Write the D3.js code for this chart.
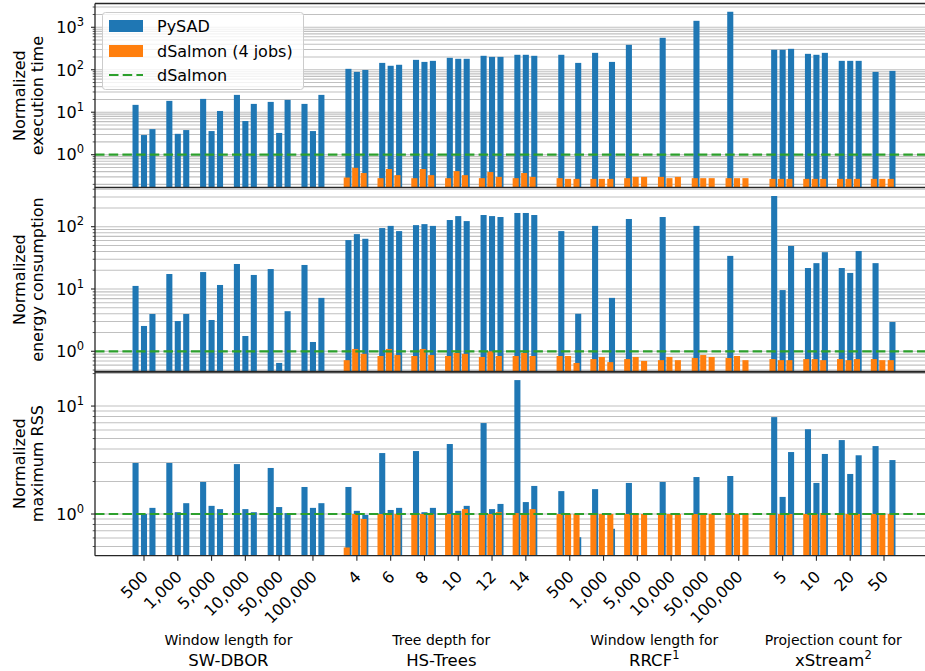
<!DOCTYPE html>
<html>
<head>
<meta charset="utf-8">
<script src="https://cdn.jsdelivr.net/npm/d3@7"></script>
<style>
body { margin: 0; background: #fff; }
text { font-family: "DejaVu Sans", sans-serif; fill: #000; }
</style>
</head>
<body>
<div id="chart"></div>
<script>
////////////////////////////////////////////////////////////
//////////////////////// Data //////////////////////////////
////////////////////////////////////////////////////////////
var groupNames = ["SW-DBOR", "HS-Trees", "RRCF", "xStream"];
var groupSup = ["", "", "1", "2"];
var groupCaptions = ["Window length for", "Tree depth for", "Window length for", "Projection count for"];
var tickLabels = [
	["500", "1,000", "5,000", "10,000", "50,000", "100,000"],
	["4", "6", "8", "10", "12", "14"],
	["500", "1,000", "5,000", "10,000", "50,000", "100,000"],
	["5", "10", "20", "50"]
];
var metricLabels = [
	["Normalized", "execution time"],
	["Normalized", "energy consumption"],
	["Normalized", "maximum RSS"]
];
var seriesNames = ["PySAD", "dSalmon (4 jobs)", "dSalmon"];

// three bars (datasets) per parameter value, null = no result
var pysadTime = [
	[14.9, 2.9, 4.0], [18.5, 3.1, 3.8], [20.6, 3.6, 10.7], [25.6, 6.2, 15.7], [17.5, 3.25, 19.5], [15.7, 3.6, 25.6],
	[105, 89, 99], [145, 124, 131], [171, 153, 162], [191, 181, 181], [213, 201, 201], [225, 225, 213],
	[225, null, 145], [250, null, 153], [386, null, null], [565, null, null], [1420, null, null], [2320, null, null],
	[295, 295, 311], [237, 225, 250], [162, 162, 162], [89, null, 94]
];
var dsalmonTime = [
	null, null, null, null, null, null,
	[0.29, 0.49, 0.37], [0.28, 0.46, 0.33], [0.28, 0.46, 0.33], [0.28, 0.41, 0.33], [0.28, 0.39, 0.30], [0.28, 0.37, 0.30],
	[0.28, 0.27, 0.27], [0.27, 0.27, 0.27], [0.28, 0.30, 0.30], [0.30, 0.28, 0.30], [0.28, 0.28, 0.28], [0.28, 0.28, 0.28],
	[0.27, 0.27, 0.27], [0.27, 0.27, 0.27], [0.27, 0.27, 0.27], [0.27, 0.27, 0.27]
];
var pysadEnergy = [
	[11.2, 2.55, 3.97], [17.4, 3.06, 3.97], [18.7, 3.18, 11.6], [25.2, 1.76, 16.8], [20.9, 0.65, 4.4], [24.3, 1.41, 7.2],
	[61, 76, 64], [95, 103, 85], [106, 110, 103], [128, 148, 123], [154, 148, 143], [166, 166, 154],
	[85, null, 4.0], [103, null, 7.2], [133, null, null], [143, null, null], [103, null, null], [34, null, null],
	[311, 9.6, 49], [21.7, 26, 39], [21.7, 18.1, 40.7], [26, null, 2.95]
];
var dsalmonEnergy = [
	null, null, null, null, null, null,
	[0.72, 1.09, 0.91], [0.84, 1.09, 0.87], [0.84, 1.09, 0.87], [0.84, 0.94, 0.91], [0.81, 1.0, 0.84], [0.84, 0.94, 0.84],
	[0.84, 0.84, 0.65], [0.75, 0.81, 0.67], [0.75, 0.81, 0.70], [0.72, 0.81, 0.72], [0.78, 0.87, 0.81], [0.78, 0.84, 0.72],
	[0.75, 0.72, 0.72], [0.75, 0.75, 0.72], [0.75, 0.72, 0.75], [0.75, 0.72, 0.72]
];
var pysadRss = [
	[2.97, 1.0, 1.14], [2.97, 1.04, 1.26], [1.98, 1.19, 1.11], [2.90, 1.11, 1.04], [2.67, 1.16, 1.02], [1.78, 1.14, 1.26],
	[1.78, 1.07, 0.98], [3.67, 1.09, 1.14], [3.83, 1.04, 1.14], [4.45, 1.07, 1.19], [6.96, 1.11, 1.24], [17.4, 1.29, 1.82],
	[1.63, null, 0.61], [1.70, null, 0.73], [1.94, null, null], [1.98, null, null], [2.2, null, null], [2.25, null, null],
	[7.9, 1.44, 3.75], [6.1, 1.94, 3.6], [4.84, 2.35, 3.5], [4.26, null, 3.16]
];
var dsalmonRss = [
	null, null, null, null, null, null,
	[0.49, 1.0, 0.90], [1.0, 1.0, 1.0], [1.0, 1.0, 1.0], [1.0, 1.0, 1.11], [1.0, 1.0, 1.04], [1.02, 1.0, 1.11],
	[1, 1, 1], [1, 1, 1], [1, 1, 1], [1, 1, 1], [1, 1, 1], [1, 1, 1],
	[1, 1, 1], [1, 1, 1.02], [1, 1, 1], [1, 1, 1]
];
var yLimits = [[0.167, 3630], [0.465, 429], [0.411, 20.9]];

////////////////////////////////////////////////////////////
//////////////////////// Setup /////////////////////////////
////////////////////////////////////////////////////////////
var width = 925, height = 671;
var left = 95;
var panelTop = [3.5, 187.3, 371.5],
	panelBottom = [187.7, 372, 555.7];

var blue = "#1f77b4", orange = "#ff7f0e", green = "#2ca02c";
var barW = 0.18, offsets = [-0.25, 0, 0.25], orangeShift = -0.05;

// x position of every parameter value, with a small gap between algorithms
var pos = [];
tickLabels.forEach(function(labels, gi) {
	labels.forEach(function(l, ti) { pos.push({u: gi * 6.3 + ti, label: l, group: gi}); });
});

var x = d3.scaleLinear().domain([-1.45, 23.35]).range([left, 933]);

var svg = d3.select("#chart").append("svg")
	.attr("width", width).attr("height", height);

svg.append("defs").append("clipPath").attr("id", "clipAll")
	.append("rect").attr("x", left).attr("y", 0).attr("width", width - left).attr("height", height);

var panels = [
	{py: pysadTime, ds: dsalmonTime},
	{py: pysadEnergy, ds: dsalmonEnergy},
	{py: pysadRss, ds: dsalmonRss}
];

panels.forEach(function(p, pi) {
	var y = d3.scaleLog().domain(yLimits[pi]).range([panelBottom[pi], panelTop[pi]]);
	var g = svg.append("g").attr("clip-path", "url(#clipAll)");

	// grid: major + minor
	var ticks = y.ticks().filter(function(t) { return t >= yLimits[pi][0] && t <= yLimits[pi][1]; });
	g.selectAll(".grid").data(ticks).enter().append("line")
		.attr("x1", left).attr("x2", width)
		.attr("y1", function(d) { return y(d); }).attr("y2", function(d) { return y(d); })
		.attr("stroke", "#c0c0c0").attr("stroke-width", 1.1);

	// bars
	pos.forEach(function(d, i) {
		[0, 1, 2].forEach(function(k) {
			var v = p.py[i][k];
			if (v == null) return;
			var yt = Math.max(y(v), panelTop[pi]);
			g.append("rect")
				.attr("x", x(d.u + offsets[k] - barW / 2)).attr("width", x(barW) - x(0))
				.attr("y", yt).attr("height", panelBottom[pi] - yt)
				.attr("fill", blue);
		});
	});
	pos.forEach(function(d, i) {
		if (p.ds[i] == null) return;
		[0, 1, 2].forEach(function(k) {
			var v = p.ds[i][k];
			var yt = Math.max(y(v), panelTop[pi]);
			g.append("rect")
				.attr("x", x(d.u + offsets[k] + orangeShift - barW / 2)).attr("width", x(barW) - x(0))
				.attr("y", yt).attr("height", panelBottom[pi] - yt)
				.attr("fill", orange);
		});
	});

	// dSalmon reference line
	g.append("line")
		.attr("x1", left).attr("x2", width)
		.attr("y1", y(1)).attr("y2", y(1))
		.attr("stroke", green).attr("stroke-width", 2.2)
		.attr("stroke-dasharray", "9.5,4.2");

	// spines
	var sp = svg.append("g").attr("stroke", "#262626").attr("stroke-width", 1.3);
	sp.append("line").attr("x1", left).attr("x2", width).attr("y1", panelTop[pi]).attr("y2", panelTop[pi]);
	sp.append("line").attr("x1", left).attr("x2", width).attr("y1", panelBottom[pi]).attr("y2", panelBottom[pi]);
	sp.append("line").attr("x1", left).attr("x2", left).attr("y1", panelTop[pi]).attr("y2", panelBottom[pi]);

	// y ticks
	ticks.forEach(function(t) {
		var major = Math.abs(Math.log10(t) - Math.round(Math.log10(t))) < 1e-9;
		sp.append("line").attr("x1", left - (major ? 4 : 2.3)).attr("x2", left)
			.attr("y1", y(t)).attr("y2", y(t)).attr("stroke-width", major ? 1.1 : 0.8);
		if (major) {
			var txt = svg.append("text")
				.attr("x", left - 11).attr("y", y(t)).attr("dy", "0.36em")
				.attr("text-anchor", "end").style("font-size", "16px")
				.text("10");
			txt.append("tspan").attr("dy", -7).style("font-size", "11.5px")
				.text(Math.round(Math.log10(t)));
		}
	});

	// y label
	var cy = (panelTop[pi] + panelBottom[pi]) / 2;
	metricLabels[pi].forEach(function(l, li) {
		var bx = li == 0 ? 25 : 43;
		svg.append("text")
			.attr("transform", "translate(" + bx + "," + cy + ") rotate(-90)")
			.attr("text-anchor", "middle").style("font-size", "16px")
			.text(l);
	});
});

////////////////////////////////////////////////////////////
//////////////////////// X axis ////////////////////////////
////////////////////////////////////////////////////////////
var bottom = panelBottom[2];
pos.forEach(function(d) {
	svg.append("line")
		.attr("x1", x(d.u)).attr("x2", x(d.u))
		.attr("y1", bottom).attr("y2", bottom + 5)
		.attr("stroke", "#262626").attr("stroke-width", 1.1);
	svg.append("text")
		.attr("transform", "translate(" + (x(d.u) + 1) + "," + (bottom + 18) + ") rotate(-45)")
		.attr("text-anchor", "end").attr("dy", "0.36em")
		.style("font-size", "16px")
		.text(d.label);
});

groupNames.forEach(function(name, gi) {
	var us = pos.filter(function(d) { return d.group == gi; }).map(function(d) { return d.u; });
	var cx = x(d3.mean(us));
	svg.append("text")
		.attr("x", cx).attr("y", 645)
		.attr("text-anchor", "middle").style("font-size", "14px")
		.text(groupCaptions[gi]);
	var t = svg.append("text")
		.attr("x", cx).attr("y", 666)
		.attr("text-anchor", "middle").style("font-size", "16.5px")
		.text(name);
	if (groupSup[gi]) {
		t.append("tspan").attr("dy", -7).style("font-size", "11.5px").text(groupSup[gi]);
	}
});

////////////////////////////////////////////////////////////
//////////////////////// Legend ////////////////////////////
////////////////////////////////////////////////////////////
var lg = svg.append("g");
lg.append("rect")
	.attr("x", 102.5).attr("y", 12.5).attr("width", 201).attr("height", 77)
	.attr("rx", 3).attr("fill", "#fff").attr("fill-opacity", 0.8)
	.attr("stroke", "#cccccc").attr("stroke-width", 1);
var rows = [26, 51, 75];
seriesNames.forEach(function(s, i) {
	if (i < 2) {
		lg.append("rect").attr("x", 109).attr("y", rows[i] - 6).attr("width", 34).attr("height", 12)
			.attr("fill", i == 0 ? blue : orange);
	} else {
		lg.append("line").attr("x1", 109).attr("x2", 143).attr("y1", rows[i]).attr("y2", rows[i])
			.attr("stroke", green).attr("stroke-width", 2.2).attr("stroke-dasharray", "9.5,4.2");
	}
	lg.append("text").attr("x", 157).attr("y", rows[i]).attr("dy", "0.36em")
		.style("font-size", "16px").text(s);
});
</script>
</body>
</html>
